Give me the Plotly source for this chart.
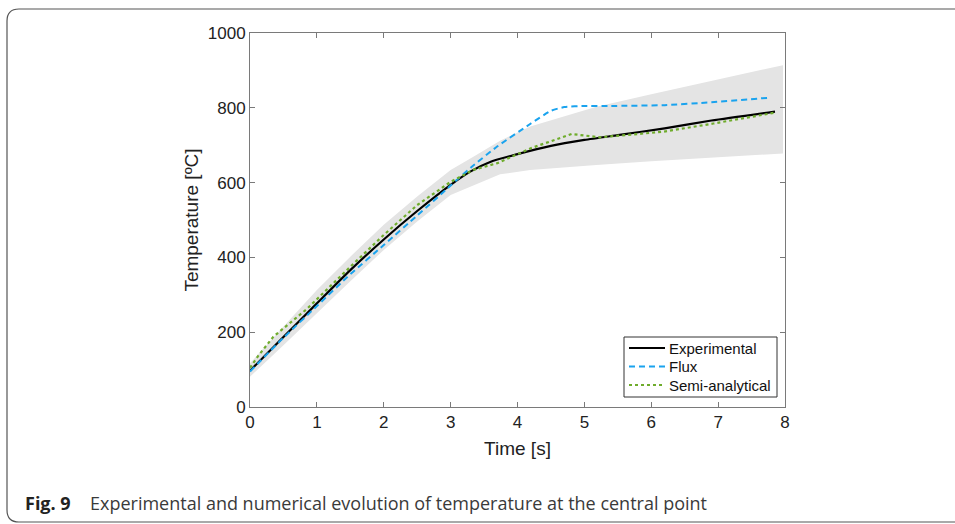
import plotly.graph_objects as go

# ---------------- data ----------------
band_x = [0, 0.5, 1, 1.5, 2, 2.5, 3, 3.34, 3.74, 4.19, 5.18, 6, 7, 7.97]
band_upper = [117, 215, 313, 402, 487, 563, 634, 669, 712, 750, 803, 836, 876, 914]
band_lower = [81, 165, 250, 336, 420, 496, 567, 592, 622, 634, 647, 657, 668, 678]

exp_x = [0, 0.5, 1, 1.5, 2, 2.5, 3, 3.3, 3.6, 4.0, 4.5, 5.0, 5.5, 6.2, 6.9, 7.85]
exp_y = [97, 187, 277, 366, 448, 524, 594, 630, 656, 676, 698, 714, 727, 745, 766, 790]

flux_x = [0, 0.5, 1, 1.5, 2, 2.5, 3, 3.3, 3.7, 4.2, 4.5, 4.7, 5.0, 5.4, 6.2, 6.9, 7.77]
flux_y = [95, 185, 270, 355, 433, 512, 592, 640, 697, 758, 792, 802, 805, 805, 807, 815, 827]

semi_x = [0, 0.12, 0.35, 0.85, 1.5, 2, 2.5, 3, 3.34, 3.7, 4.2, 4.81, 5.23, 6.18, 6.93, 7.85]
semi_y = [105, 136, 188, 262, 375, 460, 540, 602, 634, 652, 692, 730, 721, 736, 758, 787]

x_ticks = [0, 1, 2, 3, 4, 5, 6, 7, 8]
y_ticks = [0, 200, 400, 600, 800, 1000]

series_names = ["Experimental", "Flux", "Semi-analytical"]
series_colors = ["#000000", "#1aa3ee", "#6fac2c"]
series_dash = ["solid", "6px,4px", "dot"]
series_width = [2.2, 2, 2.2]

# ---------------- layout geometry (pixels) ----------------
W, H = 955, 524
L, R, T, B = 250, 785, 33, 407

def px(xp):
    return (xp - L) / (R - L)

def py(yp):
    return (B - yp) / (B - T)

fig = go.Figure()

fig.add_trace(go.Scatter(
    x=band_x + band_x[::-1], y=band_upper + band_lower[::-1],
    fill="toself", fillcolor="#e4e4e4", line=dict(width=0),
    mode="lines", showlegend=False, hoverinfo="skip"))

fig.add_trace(go.Scatter(x=exp_x, y=exp_y, mode="lines", name=series_names[0],
                         line=dict(color=series_colors[0], width=series_width[0], dash=series_dash[0],
                                   shape="spline", smoothing=0.6)))
fig.add_trace(go.Scatter(x=flux_x, y=flux_y, mode="lines", name=series_names[1],
                         line=dict(color=series_colors[1], width=series_width[1], dash=series_dash[1],
                                   shape="spline", smoothing=0.5)))
fig.add_trace(go.Scatter(x=semi_x, y=semi_y, mode="lines", name=series_names[2],
                         line=dict(color=series_colors[2], width=series_width[2], dash=series_dash[2])))

tick_font = dict(family="Liberation Sans, Arial", size=17, color="#222222")
title_font = dict(family="Liberation Sans, Arial", size=19, color="#222222")
axis_common = dict(showline=True, mirror="ticks", linecolor="#7a7a7a", linewidth=1,
                   ticks="inside", ticklen=5, tickcolor="#7a7a7a", showgrid=False,
                   zeroline=False, tickfont=tick_font)

fig.update_xaxes(range=[0, 8], tickvals=x_ticks, ticktext=[str(v) for v in x_ticks],
                 title=dict(text="Time [s]", font=title_font, standoff=10), **axis_common)
fig.update_yaxes(range=[0, 1000], tickvals=y_ticks, ticktext=[str(v) for v in y_ticks],
                 title=dict(text="Temperature [ºC]", font=title_font, standoff=4), **axis_common)

# rounded outer frame
rad = 12
x0, x1, y0, y1 = 7, 965, 9, 522
rx, ry = rad / (R - L), rad / (B - T)
path = (f"M {px(x0)},{py(y0) - ry} "
        f"Q {px(x0)},{py(y0)} {px(x0) + rx},{py(y0)} "
        f"L {px(x1)},{py(y0)} L {px(x1)},{py(y1)} "
        f"L {px(x0) + rx},{py(y1)} "
        f"Q {px(x0)},{py(y1)} {px(x0)},{py(y1) + ry} Z")
fig.add_shape(type="path", path=path, xref="paper", yref="paper",
              line=dict(color="#555555", width=1.2), fillcolor="rgba(0,0,0,0)", layer="below")

# legend box (MATLAB style)
fig.add_shape(type="rect", xref="paper", yref="paper",
              x0=px(624), x1=px(777), y0=py(397), y1=py(337),
              line=dict(color="#333333", width=1), fillcolor="white", layer="above")
rows = [348, 366.5, 385]
for name, col, dsh, wd, ry_ in zip(series_names, series_colors, series_dash, series_width, rows):
    fig.add_shape(type="line", xref="paper", yref="paper",
                  x0=px(629), x1=px(665), y0=py(ry_), y1=py(ry_),
                  line=dict(color=col, width=wd, dash=dsh), layer="above")
    fig.add_annotation(x=px(667), y=py(ry_), xref="paper", yref="paper",
                       xanchor="left", yanchor="middle", text=name, showarrow=False,
                       font=dict(family="Liberation Sans, Arial", size=15, color="#111111"))

# caption
fig.add_annotation(x=px(23), y=py(503), xref="paper", yref="paper", xanchor="left", yanchor="middle",
                   text="<b>Fig. 9</b>", showarrow=False,
                   font=dict(family="Open Sans", size=18, color="#222222"))
fig.add_annotation(x=px(88), y=py(503), xref="paper", yref="paper", xanchor="left", yanchor="middle",
                   text="Experimental and numerical evolution of temperature at the central point",
                   showarrow=False, font=dict(family="Open Sans", size=18, color="#3a3a3a"))

fig.update_layout(
    width=W, height=H,
    margin=dict(l=L, r=W - R, t=T, b=H - B),
    paper_bgcolor="white", plot_bgcolor="white",
    showlegend=False,
)

fig.write_html("out.html")
